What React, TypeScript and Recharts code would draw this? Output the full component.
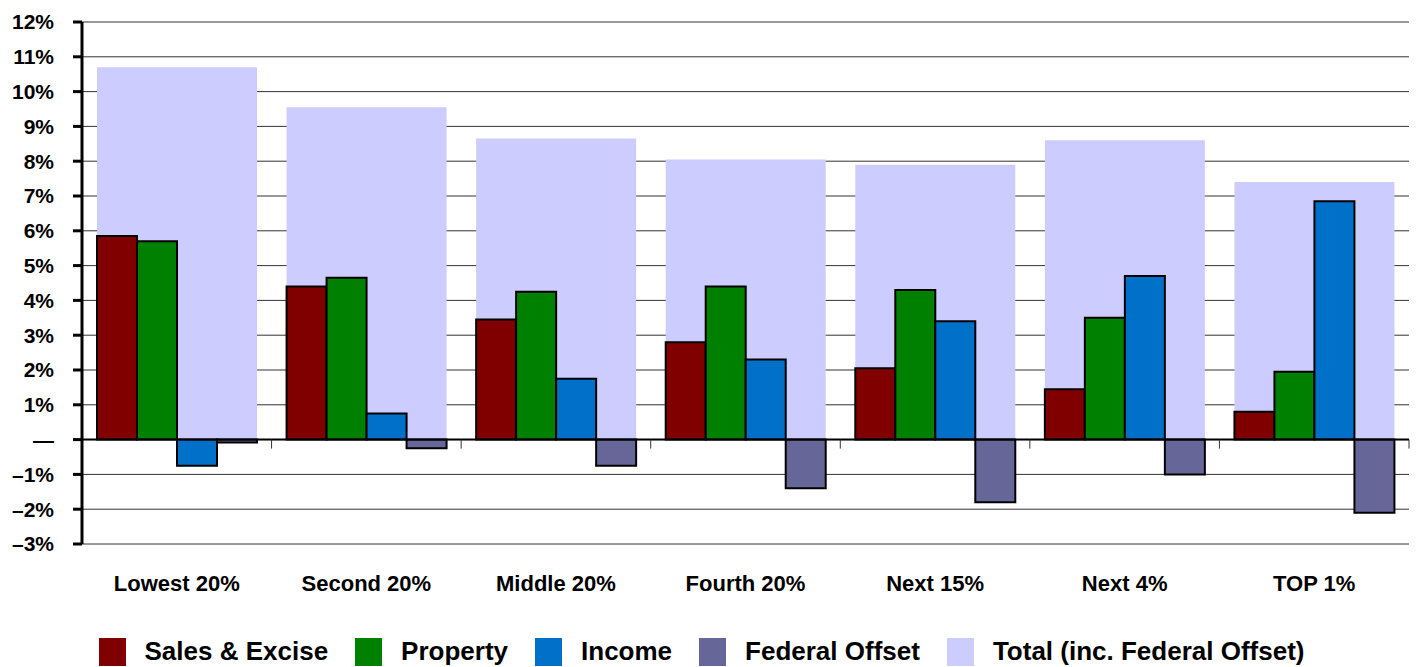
import { BarChart, Bar, XAxis, YAxis, CartesianGrid, ReferenceLine, Legend } from 'recharts'

const groups = ['Lowest 20%', 'Second 20%', 'Middle 20%', 'Fourth 20%', 'Next 15%', 'Next 4%', 'TOP 1%']
const salesExcise = [5.85, 4.4, 3.45, 2.8, 2.05, 1.45, 0.8]
const property = [5.7, 4.65, 4.25, 4.4, 4.3, 3.5, 1.95]
const income = [-0.75, 0.75, 1.75, 2.3, 3.4, 4.7, 6.85]
const federalOffset = [-0.08, -0.25, -0.75, -1.4, -1.8, -1.0, -2.1]
const total = [10.7, 9.55, 8.65, 8.05, 7.9, 8.6, 7.4]
const yTicks = [-3, -2, -1, 0, 1, 2, 3, 4, 5, 6, 7, 8, 9, 10, 11, 12]

const data = groups.map((g, i) => ({
  group: g,
  sales: salesExcise[i],
  property: property[i],
  income: income[i],
  federal: federalOffset[i],
  total: total[i],
}))

const series = [
  { key: 'sales', name: 'Sales & Excise', color: '#800000' },
  { key: 'property', name: 'Property', color: '#008000' },
  { key: 'income', name: 'Income', color: '#0070C8' },
  { key: 'federal', name: 'Federal Offset', color: '#666699' },
  { key: 'total', name: 'Total (inc. Federal Offset)', color: '#CCCCFF' },
]

const font = '"Liberation Sans", Arial, Helvetica, sans-serif'

const fmtY = (v: number) => (v === 0 ? '—' : v < 0 ? `–${Math.abs(v)}%` : `${v}%`)

const LegendBox = () => (
  <div style={{ display: 'flex', justifyContent: 'center', alignItems: 'center', fontFamily: font, fontWeight: 700, fontSize: 26, color: '#000', paddingRight: 6 }}>
    {series.map((s, i) => (
      <div key={s.key} style={{ display: 'flex', alignItems: 'center', marginRight: i < series.length - 1 ? 27 : 0 }}>
        <span style={{ width: 27, height: 28, background: s.color, display: 'inline-block', marginRight: 19 }} />
        {s.name}
      </div>
    ))}
  </div>
)

// zero line with the small category-boundary ticks hanging below it
const ZeroLine = (props: any) => {
  const { x1, x2, y1 } = props
  const step = (x2 - x1) / groups.length
  return (
    <g>
      <line x1={x1} x2={x2} y1={y1} y2={y1} stroke="#000" strokeWidth={2} />
      {groups.map((_, i) => (
        <line key={i} x1={x1 + step * (i + 1)} x2={x1 + step * (i + 1)} y1={y1} y2={y1 + 9} stroke="#333" strokeWidth={1} />
      ))}
    </g>
  )
}

export default function App() {
  return (
    <div style={{ position: 'absolute', left: 0, top: 0, width: 1418, height: 667, background: '#fff' }}>
      <BarChart
        width={1418}
        height={667}
        data={data}
        margin={{ top: 22, right: 9, left: 0, bottom: 0 }}
        barCategoryGap={15}
        barGap={0}
      >
        <CartesianGrid horizontal vertical={false} stroke="#333" strokeWidth={1} />
        <XAxis xAxisId="bg" dataKey="group" hide />
        <XAxis
          dataKey="group"
          axisLine={false}
          tickLine={false}
          height={78}
          tickMargin={25}
          tick={{ fontFamily: font, fontWeight: 700, fontSize: 22, fill: '#000' }}
        />
        <YAxis
          width={82}
          domain={[-3, 12]}
          ticks={yTicks}
          interval={0}
          tickFormatter={fmtY}
          axisLine={{ stroke: '#000', strokeWidth: 3 }}
          tickLine={{ stroke: '#000', strokeWidth: 3 }}
          tickSize={9}
          tickMargin={19}
          tick={{ fontFamily: font, fontWeight: 700, fontSize: 21, fill: '#000' }}
        />
        <Bar xAxisId="bg" dataKey="total" name="Total (inc. Federal Offset)" fill="#CCCCFF" isAnimationActive={false} />
        {series.slice(0, 4).map((s) => (
          <Bar key={s.key} dataKey={s.key} name={s.name} fill={s.color} stroke="#000" strokeWidth={2} isAnimationActive={false} />
        ))}
        <ReferenceLine y={0} shape={<ZeroLine />} />
        <Legend verticalAlign="bottom" height={45} wrapperStyle={{ top: 636, bottom: 'auto' }} content={<LegendBox />} />
      </BarChart>
    </div>
  )
}
